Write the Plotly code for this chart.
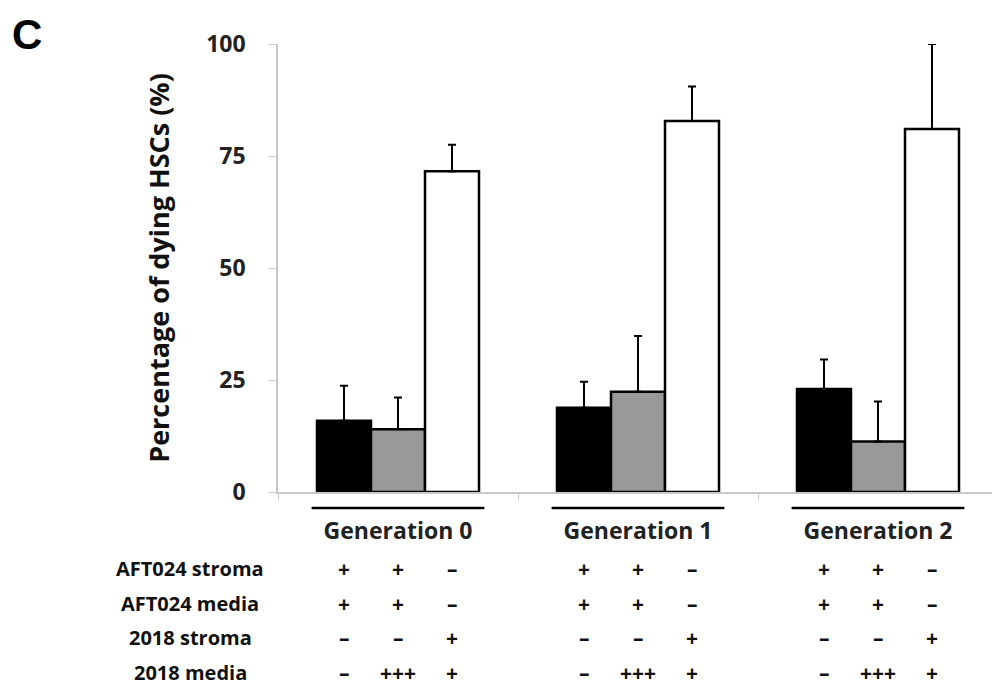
import plotly.graph_objects as go

# ---------------- data ----------------
generations = ["Generation 0", "Generation 1", "Generation 2"]
series_names = ["AFT024 stroma + media", "AFT024 stroma + media + 2018 media (+++)", "2018 stroma + media"]
series_colors = ["#000000", "#999999", "#ffffff"]
values = [
    [15.9, 18.8, 23.0],   # black
    [14.0, 22.4, 11.3],   # grey
    [71.6, 82.8, 81.0],   # white
]
errors = [
    [7.8, 5.8, 6.6],
    [7.1, 12.4, 8.9],
    [5.9, 7.7, 19.0],
]
row_labels = ["AFT024 stroma", "AFT024 media", "2018 stroma", "2018 media"]
row_symbols = [
    ["+", "+", "\u2013"],
    ["+", "+", "\u2013"],
    ["\u2013", "\u2013", "+"],
    ["\u2013", "+++", "+"],
]
y_ticks = [0, 25, 50, 75, 100]

# ---------------- layout constants ----------------
W, H = 992, 688
L, R, T, B = 278, 0, 44, 196
plot_w = W - L - R
plot_h = H - T - B
bar_w = 0.225


def px_to_paper_x(px):
    return (px - L) / plot_w


def px_to_paper_y(py):
    return (H - B - py) / plot_h


FONT = "Open Sans"

fig = go.Figure()
for s in range(3):
    fig.add_trace(go.Bar(
        x=generations,
        y=values[s],
        name=series_names[s],
        marker=dict(color=series_colors[s], line=dict(color="#000000", width=2.5)),
        error_y=dict(type="data", array=errors[s], symmetric=False, arrayminus=[0, 0, 0],
                     color="#000000", thickness=2, width=4),
        cliponaxis=False,
    ))

annotations = []
shapes = []

# lines above generation labels
for i, g in enumerate(generations):
    shapes.append(dict(type="line", xref="x", yref="paper",
                       x0=i - 0.36, x1=i + 0.36,
                       y0=px_to_paper_y(508), y1=px_to_paper_y(508),
                       line=dict(color="#000000", width=2.5)))

# condition table
row_y = [568, 603, 637, 672]
for r, lab in enumerate(row_labels):
    annotations.append(dict(text=lab, xref="paper", yref="paper",
                            x=px_to_paper_x(190), y=px_to_paper_y(row_y[r]),
                            xanchor="center", yanchor="middle", showarrow=False,
                            font=dict(family=FONT, size=20, color="#111111", weight="bold")))
    for i in range(len(generations)):
        for j in range(3):
            annotations.append(dict(text=row_symbols[r][j], xref="x", yref="paper",
                                    x=i + (j - 1) * bar_w, y=px_to_paper_y(row_y[r] + 1),
                                    xanchor="center", yanchor="middle", showarrow=False,
                                    font=dict(family=FONT, size=21, color="#111111", weight="bold")))

# panel letter
annotations.append(dict(text="C", xref="paper", yref="paper",
                        x=px_to_paper_x(10), y=px_to_paper_y(9),
                        xanchor="left", yanchor="top", showarrow=False,
                        font=dict(family="Liberation Sans", size=42, color="#000000", weight="bold")))

fig.update_layout(
    width=W, height=H,
    margin=dict(l=L, r=R, t=T, b=B, pad=0),
    paper_bgcolor="#ffffff", plot_bgcolor="#ffffff",
    barmode="group", bargap=0.325, bargroupgap=0,
    showlegend=False,
    annotations=annotations,
    shapes=shapes,
    xaxis=dict(
        type="category", range=[-0.5, 2.475],
        showline=True, linecolor="#c8c8c8", linewidth=1.5,
        ticks="outside", tickson="boundaries", ticklen=6, tickcolor="#c8c8c8", tickwidth=1,
        showgrid=False, zeroline=False,
        ticklabelstandoff=18,
        tickfont=dict(family=FONT, size=23, color="#222222", weight="bold"),
    ),
    yaxis=dict(
        range=[0, 100], tickvals=y_ticks,
        showline=True, linecolor="#c8c8c8", linewidth=1.5,
        ticks="outside", ticklen=8, tickcolor="#c8c8c8", tickwidth=1,
        showgrid=False, zeroline=False,
        ticklabelstandoff=18,
        tickfont=dict(family=FONT, size=23, color="#222222", weight="bold"),
        title=dict(text="Percentage of dying HSCs (%)", standoff=29,
                   font=dict(family=FONT, size=27, color="#111111", weight="bold")),
    ),
)

fig.write_html("out.html")
